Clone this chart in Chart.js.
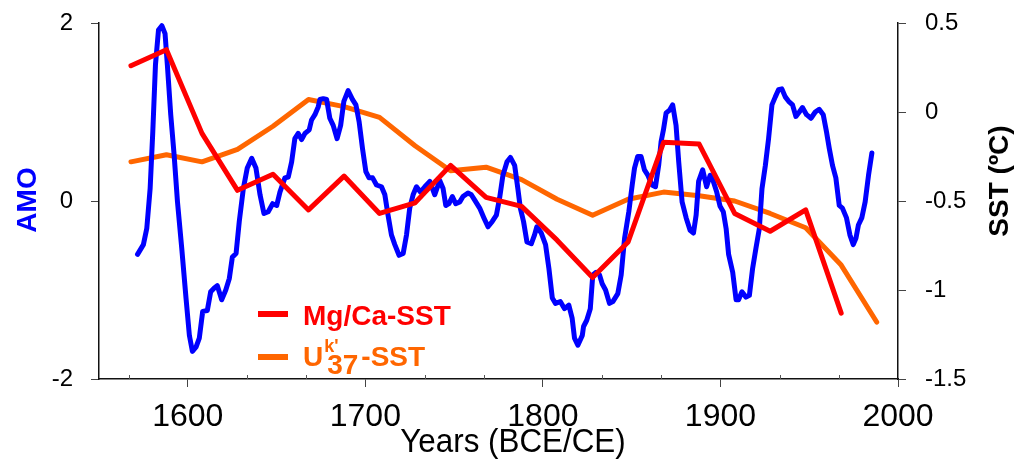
<!DOCTYPE html>
<html>
<head>
<meta charset="utf-8">
<script src="https://cdn.jsdelivr.net/npm/chart.js@4.4.1/dist/chart.umd.min.js"></script>
<style>
  html, body { margin: 0; padding: 0; background: #fff; }
  #wrap { width: 1019px; height: 468px; }
</style>
</head>
<body>
<div id="wrap"><canvas id="c" width="1019" height="468"></canvas></div>
<script>
// AMO index (left axis)
const amoYears = [
  1571.7, 1575.0, 1576.9, 1578.8, 1580.3, 1581.8, 1583.5, 1585.4, 1587.2, 1588.5,
  1590.4, 1592.3, 1594.2, 1596.6, 1599.0, 1600.9, 1602.6, 1604.7, 1606.5, 1608.4,
  1611.0, 1612.9, 1614.8, 1616.6, 1619.1, 1621.4, 1623.4, 1625.1, 1627.2, 1629.0,
  1631.3, 1633.5, 1636.0, 1638.4, 1640.7, 1642.9, 1645.3, 1647.8, 1650.1, 1651.9,
  1654.7, 1656.6, 1658.5, 1660.3, 1662.2, 1664.1, 1666.0, 1668.4, 1669.7, 1671.6,
  1673.5, 1674.4, 1676.3, 1678.2, 1680.0, 1681.9, 1684.1, 1686.1, 1687.9, 1690.3,
  1692.8, 1694.7, 1696.5, 1698.4, 1700.3, 1702.1, 1704.1, 1706.3, 1709.1, 1711.0,
  1712.8, 1714.7, 1716.6, 1719.0, 1721.3, 1723.2, 1725.0, 1726.9, 1728.8, 1731.0,
  1733.5, 1736.3, 1739.1, 1741.9, 1743.8, 1745.3, 1747.1, 1749.0, 1750.9, 1753.2,
  1755.0, 1757.8, 1759.7, 1761.6, 1764.4, 1766.8, 1769.1, 1771.5, 1773.8, 1775.6,
  1777.5, 1779.8, 1781.7, 1784.1, 1785.9, 1787.3, 1789.1, 1791.0, 1793.5, 1795.3,
  1796.6, 1799.1, 1801.5, 1803.4, 1805.3, 1807.1, 1809.8, 1812.2, 1814.6, 1816.5,
  1817.8, 1819.7, 1822.2, 1822.9, 1824.7, 1826.7, 1828.1, 1830.0, 1831.9, 1833.4,
  1835.3, 1837.5, 1839.4, 1842.2, 1844.1, 1846.0, 1848.4, 1850.3, 1851.6, 1853.4,
  1855.3, 1857.2, 1859.1, 1861.5, 1863.4, 1865.2, 1866.6, 1867.9, 1869.4, 1871.3,
  1873.1, 1875.0, 1876.5, 1878.4, 1880.7, 1882.9, 1884.8, 1886.3, 1887.7, 1890.0,
  1892.2, 1894.2, 1896.0, 1897.9, 1899.8, 1901.6, 1903.2, 1904.6, 1906.9, 1908.8,
  1910.2, 1912.1, 1914.4, 1916.3, 1918.1, 1920.0, 1921.9, 1923.4, 1925.3, 1927.1,
  1929.0, 1930.9, 1932.7, 1934.6, 1936.5, 1938.4, 1940.6, 1942.5, 1944.4, 1946.2,
  1948.5, 1951.0, 1953.4, 1955.6, 1957.9, 1959.7, 1961.3, 1963.1, 1965.0, 1966.9,
  1968.7, 1971.0, 1972.9, 1974.8, 1976.3, 1977.7, 1979.6, 1981.5, 1983.4, 1985.3
];
const amoIndex = [
  -0.60, -0.49, -0.31, 0.14, 0.78, 1.53, 1.92, 1.97, 1.88, 1.53,
  0.97, 0.52, -0.01, -0.53, -1.09, -1.51, -1.69, -1.64, -1.54, -1.24,
  -1.23, -1.02, -0.98, -0.95, -1.11, -1.00, -0.87, -0.63, -0.59, -0.23,
  0.14, 0.37, 0.48, 0.37, 0.07, -0.14, -0.12, -0.03, -0.05, 0.10,
  0.26, 0.27, 0.44, 0.70, 0.76, 0.69, 0.76, 0.80, 0.91, 0.97,
  1.06, 1.14, 1.15, 1.14, 0.93, 0.85, 0.70, 0.85, 1.12, 1.24,
  1.14, 1.08, 0.89, 0.59, 0.33, 0.26, 0.26, 0.18, 0.16, 0.07,
  -0.16, -0.38, -0.49, -0.61, -0.59, -0.38, -0.08, 0.07, 0.16, 0.10,
  0.16, 0.22, 0.07, 0.23, 0.14, -0.05, -0.03, 0.05, -0.03, -0.01,
  0.05, 0.09, 0.07, 0.01, -0.08, -0.19, -0.29, -0.23, -0.16, 0.03,
  0.29, 0.44, 0.49, 0.40, 0.14, -0.08, -0.23, -0.46, -0.48, -0.38,
  -0.29, -0.36, -0.49, -0.76, -1.09, -1.15, -1.13, -1.21, -1.17, -1.32,
  -1.54, -1.62, -1.51, -1.41, -1.34, -1.21, -0.83, -0.80, -0.83, -0.93,
  -1.00, -1.15, -1.13, -1.04, -0.83, -0.42, -0.12, 0.18, 0.37, 0.50,
  0.50, 0.35, 0.29, 0.18, 0.16, 0.40, 0.67, 0.80, 0.99, 1.02,
  1.08, 0.85, 0.44, -0.01, -0.19, -0.33, -0.36, -0.16, 0.22, 0.35,
  0.16, 0.29, 0.22, 0.10, -0.06, -0.12, -0.31, -0.60, -0.80, -1.11,
  -1.11, -1.02, -1.08, -1.06, -0.76, -0.53, -0.31, 0.14, 0.40, 0.70,
  1.08, 1.17, 1.25, 1.26, 1.17, 1.12, 1.08, 0.95, 1.00, 1.05,
  0.97, 0.93, 1.00, 1.03, 0.97, 0.78, 0.59, 0.40, 0.26, -0.05,
  -0.08, -0.19, -0.38, -0.49, -0.42, -0.27, -0.19, -0.01, 0.29, 0.54
];

// Mg/Ca-based SST anomaly (right axis)
const mgcaYears = [1568, 1588, 1608, 1628, 1648, 1668, 1688, 1708, 1728, 1748, 1768,
                   1788, 1808, 1828, 1848, 1868, 1888, 1908, 1928, 1948, 1968];
const mgcaSST = [0.26, 0.35, -0.12, -0.44, -0.35, -0.55, -0.36, -0.57, -0.51, -0.30, -0.48,
                 -0.53, -0.72, -0.93, -0.73, -0.17, -0.18, -0.57, -0.67, -0.55, -1.13];

// Uk'37-based SST anomaly (right axis)
const ukYears = [1568, 1588, 1608, 1628, 1648, 1668, 1688, 1708, 1728, 1748, 1768,
                 1788, 1808, 1828, 1848, 1868, 1888, 1908, 1928, 1948, 1968, 1988];
const uk37SST = [-0.28, -0.24, -0.28, -0.21, -0.08, 0.07, 0.03, -0.03, -0.19, -0.33, -0.31,
                 -0.38, -0.49, -0.58, -0.49, -0.45, -0.47, -0.50, -0.57, -0.65, -0.86, -1.18];

// Axis ticks
const yearTicks = [1600, 1700, 1800, 1900, 2000];
const amoTicks = [-2, 0, 2];
const sstTicks = [-1.5, -1, -0.5, 0, 0.5];
const sstTickLabels = ['-1.5', '-1', '-0.5', '0', '0.5'];

const BLUE = '#0000FF', RED = '#FF0000', ORANGE = '#FF6600';
const FONT = "'Liberation Sans', Arial, sans-serif";

const pts = (xs, ys) => xs.map((x, i) => ({ x, y: ys[i] }));

// vertical axes: keep the plot area flush with the layout padding
const noVPad = s => { s.paddingTop = 0; s.paddingBottom = 0; };

// Minor ticks on the year axis, axis titles and the in-plot legend
const decor = {
  id: 'decor',
  afterDraw(chart) {
    const { ctx, chartArea: a, scales } = chart;
    const xs = scales.x;
    ctx.save();

    ctx.strokeStyle = '#555';
    ctx.lineWidth = 1;
    for (let k = 0; ; k++) {
      const v = 1500 + k * 100 / 3;
      if (v > 2000) break;
      if (v <= 1550 || k % 3 === 0) continue;
      const px = Math.round(xs.getPixelForValue(v)) + 0.5;
      ctx.beginPath();
      ctx.moveTo(px, a.bottom);
      ctx.lineTo(px, a.bottom - 4);
      ctx.stroke();
    }

    ctx.textBaseline = 'middle';
    ctx.textAlign = 'center';

    ctx.save();
    ctx.translate(28, 200);
    ctx.rotate(-Math.PI / 2);
    ctx.fillStyle = BLUE;
    ctx.font = `bold 28px ${FONT}`;
    ctx.fillText('AMO', 0, 0);
    ctx.restore();

    ctx.save();
    ctx.translate(1000, 181);
    ctx.rotate(-Math.PI / 2);
    ctx.fillStyle = '#000';
    ctx.font = `bold 28px ${FONT}`;
    ctx.fillText('SST (ºC)', 0, 0);
    ctx.restore();

    ctx.save();
    ctx.translate(513, 443);
    ctx.scale(0.95, 1);
    ctx.fillStyle = '#000';
    ctx.font = `33px ${FONT}`;
    ctx.fillText('Years (BCE/CE)', 0, 0);
    ctx.restore();

    // legend
    ctx.lineCap = 'butt';
    ctx.lineWidth = 6;
    ctx.strokeStyle = RED;
    ctx.beginPath(); ctx.moveTo(258, 314); ctx.lineTo(288, 314); ctx.stroke();
    ctx.strokeStyle = ORANGE;
    ctx.beginPath(); ctx.moveTo(258, 357); ctx.lineTo(288, 357); ctx.stroke();

    ctx.textAlign = 'left';
    ctx.textBaseline = 'alphabetic';
    ctx.fillStyle = RED;
    ctx.font = `bold 28px ${FONT}`;
    ctx.fillText('Mg/Ca-SST', 303, 325);

    ctx.fillStyle = ORANGE;
    let x = 303;
    ctx.font = `bold 28px ${FONT}`;
    ctx.fillText('U', x, 366); x += ctx.measureText('U').width;
    ctx.font = `bold 18px ${FONT}`;
    ctx.fillText("k'", x + 1, 352);
    ctx.font = `bold 28px ${FONT}`;
    ctx.fillText('37', x + 4, 374); x += 4 + ctx.measureText('37').width;
    ctx.fillText('-SST', x + 3, 366);

    ctx.restore();
  }
};

new Chart(document.getElementById('c'), {
  type: 'line',
  data: {
    datasets: [
      { label: 'Mg/Ca-SST', data: pts(mgcaYears, mgcaSST), yAxisID: 'y2',
        borderColor: RED, borderWidth: 5, order: 1 },
      { label: 'AMO', data: pts(amoYears, amoIndex), yAxisID: 'y',
        borderColor: BLUE, borderWidth: 5, order: 2 },
      { label: "Uk'37-SST", data: pts(ukYears, uk37SST), yAxisID: 'y2',
        borderColor: ORANGE, borderWidth: 5, order: 3 }
    ]
  },
  options: {
    responsive: false,
    animation: false,
    devicePixelRatio: 1,
    layout: { padding: { top: 23, left: 0, right: 0, bottom: 0 } },
    elements: {
      point: { radius: 0, hoverRadius: 0 },
      line: { tension: 0, fill: false, borderCapStyle: 'round', borderJoinStyle: 'round' }
    },
    plugins: { legend: { display: false }, tooltip: { enabled: false } },
    scales: {
      x: {
        type: 'linear', min: 1550, max: 2000,
        afterBuildTicks: s => { s.ticks = yearTicks.map(v => ({ value: v })); },
        afterFit: s => { s.height = 89; },
        grid: { drawOnChartArea: false, drawTicks: true, tickLength: 8, tickColor: '#444', tickWidth: 1 },
        border: { display: true, color: '#111', width: 1.5 },
        ticks: { font: { family: FONT, size: 32 }, color: '#000', padding: 11, maxRotation: 0,
                 autoSkip: false, callback: v => String(v) }
      },
      y: {
        position: 'left', min: -2, max: 2,
        afterBuildTicks: s => { s.ticks = amoTicks.map(v => ({ value: v })); },
        afterFit: s => { s.width = 99; noVPad(s); },
        grid: { drawOnChartArea: false, drawTicks: true, tickLength: 8, tickColor: '#444', tickWidth: 1 },
        border: { display: true, color: '#111', width: 1.5 },
        ticks: { font: { family: FONT, size: 24 }, color: '#000', padding: 18,
                 callback: v => String(v) }
      },
      y2: {
        position: 'right', min: -1.5, max: 0.5,
        afterBuildTicks: s => { s.ticks = sstTicks.map(v => ({ value: v })); },
        afterFit: s => { s.width = 121; noVPad(s); },
        grid: { drawOnChartArea: false, drawTicks: true, tickLength: 8, tickColor: '#444', tickWidth: 1 },
        border: { display: true, color: '#111', width: 1.5 },
        ticks: { font: { family: FONT, size: 24 }, color: '#000', padding: 19,
                 callback: v => sstTickLabels[sstTicks.indexOf(v)] }
      }
    }
  },
  plugins: [decor]
});
</script>
</body>
</html>
